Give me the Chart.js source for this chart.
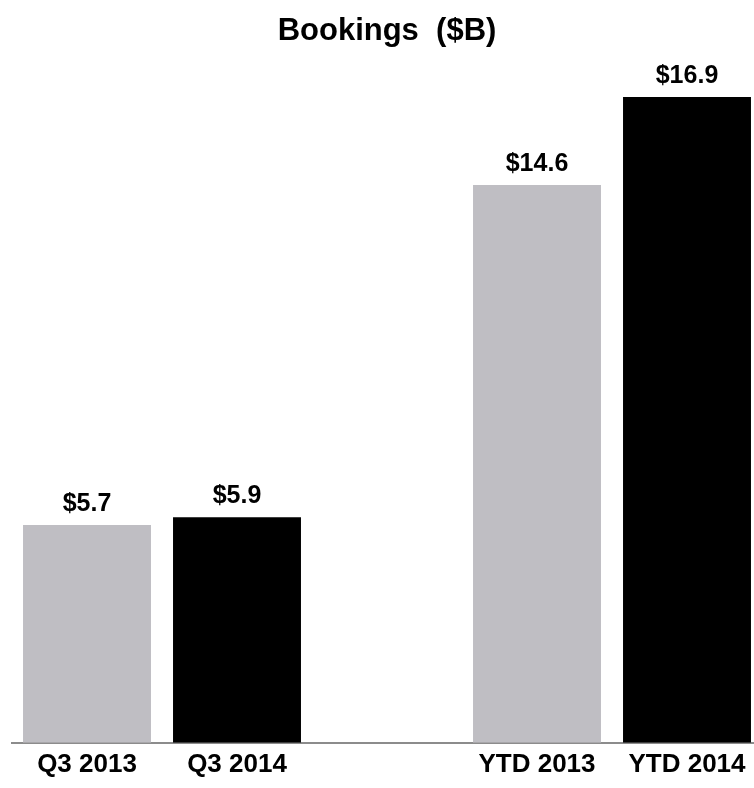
<!DOCTYPE html>
<html>
<head>
<meta charset="utf-8">
<script src="https://cdn.jsdelivr.net/npm/chart.js@4"></script>
<style>
  html, body { margin: 0; padding: 0; background: #fff; overflow: hidden; width: 754px; height: 788px; }
  #wrap { width: 770px; height: 788px; }
</style>
</head>
<body>
<div id="wrap"><canvas id="c" width="770" height="788"></canvas></div>
<script>
const categories = ['Q3 2013', 'Q3 2014', '', 'YTD 2013', 'YTD 2014'];
const bookings = [5.7, 5.9, null, 14.6, 16.9];
const barColors = ['#BFBEC3', '#000000', '#BFBEC3', '#BFBEC3', '#000000'];
const chartTitle = 'Bookings  ($B)';

const FONT = '"Liberation Sans", Arial, Helvetica, sans-serif';

const valueLabels = {
  id: 'valueLabels',
  afterDatasetsDraw(chart) {
    const ctx = chart.ctx;
    const meta = chart.getDatasetMeta(0);
    ctx.save();
    ctx.font = 'bold 25px ' + FONT;
    ctx.fillStyle = '#000';
    ctx.textAlign = 'center';
    ctx.textBaseline = 'alphabetic';
    meta.data.forEach((el, i) => {
      const v = chart.data.datasets[0].data[i];
      if (v === null || v === undefined) return;
      ctx.fillText('$' + v.toFixed(1), el.x, el.y - 14);
    });
    ctx.restore();
  }
};

new Chart(document.getElementById('c'), {
  type: 'bar',
  data: {
    labels: categories,
    datasets: [{
      data: bookings,
      backgroundColor: barColors,
      borderWidth: 0,
      categoryPercentage: 1.0,
      barPercentage: 0.853
    }]
  },
  options: {
    responsive: false,
    animation: false,
    devicePixelRatio: 1,
    layout: { padding: { left: 12, right: 8, top: 13, bottom: 2 } },
    plugins: {
      legend: { display: false },
      tooltip: { enabled: false },
      title: {
        display: true,
        text: chartTitle,
        color: '#000',
        font: { family: FONT, size: 31, weight: 'bold', lineHeight: 1.2 },
        padding: { top: 0, bottom: 4.8 }
      }
    },
    scales: {
      x: {
        grid: { display: true, color: 'transparent', drawTicks: false },
        border: { display: true, color: '#8c8c8c', width: 2 },
        ticks: {
          color: '#000',
          padding: 6,
          maxRotation: 0,
          autoSkip: false,
          font: { family: FONT, size: 26, weight: 'bold', lineHeight: 1.2 }
        }
      },
      y: {
        display: false,
        min: 0,
        max: 18
      }
    }
  },
  plugins: [valueLabels]
});
</script>
</body>
</html>
